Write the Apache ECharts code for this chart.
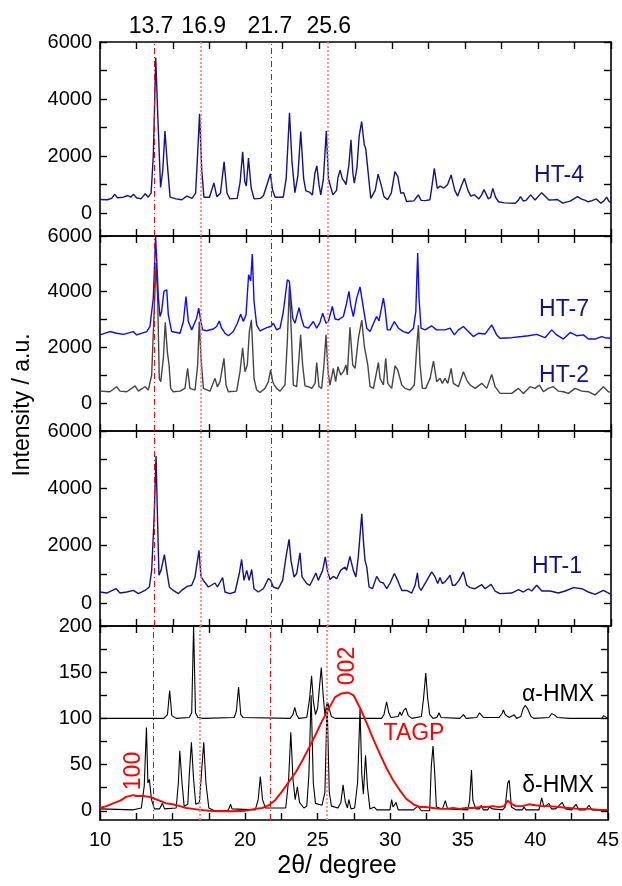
<!DOCTYPE html>
<html><head><meta charset="utf-8">
<script src="https://cdn.jsdelivr.net/npm/echarts@6/dist/echarts.min.js"></script>
<style>html,body{margin:0;padding:0;background:#fff}#c{width:622px;height:886px}</style>
</head><body><div id="c"></div>
<script>
// ---- tick labels / reference lines ----
const xTickLabels = [10, 15, 20, 25, 30, 35, 40, 45];
const xTickMarks = [10, 12.5, 15, 17.5, 20, 22.5, 25, 27.5, 30, 32.5, 35, 37.5, 40, 42.5, 45];
const yLabelsHT = [0, 2000, 4000, 6000];
const yMarksHT = [0, 1000, 2000, 3000, 4000, 5000, 6000];
const yLabelsHMX = [0, 50, 100, 150, 200];
const yMarksHMX = [0, 25, 50, 75, 100, 125, 150, 175, 200];
const refLines = [13.7, 16.9, 21.7, 25.6];

// ---- series (2theta, intensity) ----
const HT4 = [[10,480],[10.5,470],[10.8,520],[11.0,660],[11.2,540],[11.6,560],[11.9,620],[12.1,560],[12.3,660],[12.5,540],[12.8,500],[13.1,680],[13.3,560],[13.5,700],[13.65,2000],[13.82,5450],[13.95,3500],[14.15,900],[14.3,1500],[14.45,2880],[14.6,1800],[14.8,560],[15.2,500],[15.6,470],[15.95,600],[16.3,520],[16.55,700],[16.68,2000],[16.82,3480],[16.97,1500],[17.12,560],[17.5,560],[17.8,1060],[18.0,580],[18.25,700],[18.5,1800],[18.7,700],[18.9,500],[19.4,520],[19.6,1100],[19.77,2150],[19.92,1100],[20.02,950],[20.17,1930],[20.35,900],[20.55,500],[21.0,520],[21.2,620],[21.5,1100],[21.67,1380],[21.82,800],[22.0,560],[22.55,560],[22.75,1200],[22.98,3520],[23.15,1800],[23.35,720],[23.55,1300],[23.75,2860],[23.95,1200],[24.1,780],[24.35,740],[24.55,640],[24.72,1400],[24.85,1660],[25.0,1000],[25.12,640],[25.3,1200],[25.5,2880],[25.65,1200],[25.95,640],[26.2,800],[26.3,1250],[26.45,1510],[26.6,1200],[26.75,1100],[26.85,1000],[27.05,1700],[27.19,2570],[27.32,1400],[27.42,1050],[27.6,1600],[27.75,2700],[27.92,3210],[28.1,2400],[28.2,2270],[28.33,2230],[28.45,1000],[28.55,520],[28.85,800],[29.05,1370],[29.25,1000],[29.45,580],[29.7,470],[29.95,700],[30.2,1460],[30.4,1280],[30.6,700],[30.8,720],[31.0,410],[31.5,430],[31.8,640],[32.0,450],[32.3,440],[32.6,470],[32.75,1000],[32.9,1570],[33.1,870],[33.3,950],[33.55,880],[33.8,1000],[34.05,1340],[34.3,800],[34.5,600],[34.75,950],[34.96,1220],[35.2,800],[35.4,600],[35.65,650],[35.95,500],[36.15,650],[36.3,830],[36.6,500],[36.75,550],[36.9,870],[37.1,550],[37.3,400],[37.7,360],[38.45,350],[38.65,450],[38.8,580],[39.0,420],[39.2,460],[39.5,640],[39.8,460],[40.25,720],[40.75,460],[41.1,470],[41.33,480],[41.7,350],[42.2,420],[42.7,580],[42.95,500],[43.2,460],[43.45,400],[43.7,440],[44.0,500],[44.3,350],[44.5,420],[44.7,560],[44.85,420],[45,370]];

const HT7 = [[10,2450],[10.68,2570],[11.14,2510],[11.6,2470],[12.28,2570],[12.51,2450],[13.2,2570],[13.42,2750],[13.65,3770],[13.81,6000],[14.0,3770],[14.11,3110],[14.22,3290],[14.38,4010],[14.57,4070],[14.68,3170],[14.91,2570],[15.48,2510],[15.71,2930],[15.89,3830],[16.05,2930],[16.28,2630],[16.62,3050],[16.76,3410],[16.89,2990],[17.03,2630],[17.31,2600],[17.76,2660],[17.99,2750],[18.17,2950],[18.33,2690],[18.56,2510],[18.79,2420],[19.13,2570],[19.41,2870],[19.63,3190],[19.82,2930],[20.0,3170],[20.18,4610],[20.32,4390],[20.43,5350],[20.55,3650],[20.73,2810],[20.96,2590],[21.42,2710],[21.69,2750],[21.87,2870],[22.1,2630],[22.33,2690],[22.56,3290],[22.83,4430],[22.97,4370],[23.2,3050],[23.36,2870],[23.63,3430],[23.81,3020],[23.97,2750],[24.27,2690],[24.61,2930],[24.84,2690],[25.07,2900],[25.25,3230],[25.48,2870],[25.64,2930],[25.91,3470],[26.1,3020],[26.32,2990],[26.67,3110],[26.89,3590],[27.05,4010],[27.17,3530],[27.35,3110],[27.58,3770],[27.81,4170],[28.04,3410],[28.27,2690],[28.5,2570],[28.84,2990],[28.95,3110],[29.11,2950],[29.3,3470],[29.41,3770],[29.52,3410],[29.68,2630],[29.87,2630],[30.16,2930],[30.44,2690],[30.78,2570],[31.12,2510],[31.47,2690],[31.63,3290],[31.76,5390],[31.85,3770],[31.99,2690],[32.26,2630],[32.72,2770],[33.06,2630],[33.63,2630],[33.98,2690],[34.27,2450],[34.55,2630],[34.89,2750],[35.23,2570],[35.57,2390],[35.92,2510],[36.37,2480],[36.83,2810],[37.17,2450],[37.4,2330],[38.2,2350],[38.89,2390],[39.34,2420],[39.91,2470],[40.48,2350],[40.94,2630],[41.28,2450],[41.74,2300],[42.2,2540],[42.65,2420],[43.11,2450],[43.45,2300],[43.91,2300],[44.36,2390],[44.59,2350],[45,2330]];

const HT2 = [[10,430],[10.68,410],[11.14,590],[11.37,430],[11.83,410],[12.4,620],[12.63,430],[13.08,590],[13.31,470],[13.54,1010],[13.7,3170],[13.84,5030],[13.95,3770],[14.06,890],[14.16,770],[14.34,1610],[14.47,2900],[14.61,1850],[14.73,1370],[14.84,530],[15.02,410],[15.48,430],[15.82,530],[16.0,1250],[16.16,530],[16.51,470],[16.69,1370],[16.8,2930],[16.92,1610],[17.08,530],[17.53,430],[17.88,890],[18.04,590],[18.22,770],[18.49,1610],[18.63,650],[18.79,410],[19.36,430],[19.59,1130],[19.77,1990],[19.93,1130],[20.09,1370],[20.23,2570],[20.37,2990],[20.55,890],[20.73,470],[20.96,380],[21.3,530],[21.53,770],[21.69,1190],[21.83,770],[21.94,650],[22.1,530],[22.33,430],[22.67,650],[22.83,2210],[22.97,4190],[23.13,2210],[23.24,650],[23.47,590],[23.63,1610],[23.74,2450],[23.88,1370],[24.04,620],[24.27,590],[24.5,530],[24.73,710],[24.84,1460],[25.0,590],[25.18,530],[25.34,1370],[25.48,2450],[25.62,1130],[25.75,650],[25.98,1250],[26.14,770],[26.3,1310],[26.48,1010],[26.67,1130],[26.85,1370],[26.94,1010],[27.12,2720],[27.31,1370],[27.47,1250],[27.7,2330],[27.93,2980],[28.11,2030],[28.22,2090],[28.34,1370],[28.5,590],[28.73,530],[28.95,1130],[29.07,1460],[29.18,890],[29.41,650],[29.57,1610],[29.71,710],[29.98,530],[30.21,1340],[30.39,1190],[30.67,650],[30.9,530],[31.24,470],[31.53,650],[31.69,1970],[31.81,2800],[31.92,1370],[32.08,530],[32.31,530],[32.61,890],[32.84,1510],[33.06,770],[33.29,890],[33.45,710],[33.63,890],[33.82,710],[34.05,1250],[34.2,710],[34.55,590],[34.89,1130],[35.12,830],[35.35,650],[35.69,530],[36.15,710],[36.49,530],[36.83,1030],[37.06,590],[37.4,350],[38.2,350],[38.66,530],[39.0,350],[39.46,590],[39.8,530],[40.1,650],[40.37,410],[40.71,530],[41.05,590],[41.4,430],[41.74,410],[42.08,350],[42.54,530],[43.0,430],[43.45,410],[43.91,290],[44.48,590],[44.82,410],[45,400]];

const HT1 = [[10,385],[10.46,350],[11.1,500],[11.37,350],[11.83,385],[12.28,440],[12.63,330],[13.08,440],[13.38,560],[13.54,1140],[13.7,2890],[13.84,5130],[13.93,3130],[14.04,970],[14.18,1140],[14.41,1690],[14.57,1140],[14.75,560],[15.02,440],[15.37,330],[15.59,440],[15.98,580],[16.28,620],[16.51,910],[16.78,1840],[16.92,910],[17.08,790],[17.42,560],[17.88,700],[18.04,560],[18.4,890],[18.56,385],[18.9,330],[19.25,385],[19.54,1030],[19.7,1520],[19.86,790],[20.05,1140],[20.21,790],[20.39,1170],[20.55,500],[20.84,385],[21.19,500],[21.53,850],[21.69,790],[21.87,560],[22.21,500],[22.51,790],[22.74,1610],[22.95,2220],[23.08,1490],[23.29,910],[23.47,1030],[23.7,1750],[23.84,910],[24.16,680],[24.38,620],[24.79,1050],[24.95,790],[25.25,1140],[25.43,1610],[25.57,1140],[25.75,820],[25.98,930],[26.21,850],[26.48,1140],[26.78,1260],[26.89,1140],[27.12,1630],[27.35,1140],[27.53,910],[27.69,1610],[27.93,3110],[28.04,2190],[28.15,1490],[28.27,1260],[28.43,560],[28.66,500],[28.95,930],[29.18,740],[29.41,700],[29.64,500],[29.87,700],[30.16,1030],[30.39,790],[30.67,440],[31.01,440],[31.35,350],[31.58,620],[31.74,1050],[31.85,560],[31.99,440],[32.26,680],[32.72,1090],[32.95,910],[33.13,680],[33.29,890],[33.45,680],[33.63,740],[33.98,970],[34.14,620],[34.32,620],[34.59,790],[34.89,1090],[35.12,620],[35.35,540],[35.69,500],[36.15,640],[36.37,500],[36.79,650],[37.06,420],[37.4,330],[38.2,350],[38.66,470],[39.0,385],[39.34,500],[39.57,420],[39.91,620],[40.26,420],[40.83,420],[41.4,350],[41.86,420],[42.43,540],[43.0,500],[43.45,385],[43.91,300],[44.48,440],[45,300]];

const alphaHMX = [[10,100],[14.4,100],[14.65,104],[14.8,130],[14.95,103],[15.25,100],[16.15,101],[16.32,106],[16.45,200],[16.58,106],[16.75,101],[17.1,100],[19.25,101],[19.4,108],[19.55,134],[19.7,104],[19.85,101],[23.1,100],[23.3,104],[23.42,112],[23.55,104],[23.7,100],[24.25,101],[24.45,122],[24.58,146],[24.7,119],[24.85,104],[25.0,111],[25.12,133],[25.25,155],[25.37,127],[25.5,104],[25.6,113],[25.7,117],[25.8,110],[25.95,102],[26.2,100],[29.4,100],[29.57,104],[29.75,118],[29.9,106],[30.05,101],[30.55,102],[30.67,107],[30.78,103],[30.94,109],[31.08,111],[31.24,103],[31.5,100],[32.15,102],[32.3,122],[32.45,149],[32.58,122],[32.72,104],[32.95,100],[33.22,101],[33.36,106],[33.5,101],[34.8,100],[35.05,104],[35.23,100],[35.97,101],[36.15,106],[36.26,107],[36.42,101],[37.5,101],[37.7,105],[37.8,109],[37.93,104],[38.2,101],[38.55,104],[38.7,100],[39.0,102],[39.15,110],[39.3,114],[39.45,111],[39.7,102],[39.9,100],[40.94,101],[41.12,105],[41.3,104],[41.5,101],[42.4,100],[42.5,102],[42.65,100],[44.6,100],[44.7,103],[44.82,101],[45,100]];

const deltaHMX = [[10,2],[12.3,1],[12.85,3],[13.05,27],[13.2,90],[13.3,30],[13.4,34],[13.55,12],[13.75,2],[14.1,2],[14.3,8],[14.45,2],[15.25,3],[15.4,30],[15.5,65],[15.65,30],[15.8,5],[16.05,7],[16.15,38],[16.3,74],[16.45,34],[16.6,7],[16.85,9],[17.0,42],[17.15,74],[17.3,30],[17.5,3],[17.9,0],[18.8,0],[18.9,3],[19.0,7],[19.1,2],[20.7,1],[20.9,12],[21.05,37],[21.2,12],[21.4,3],[22.8,3],[23.0,34],[23.15,85],[23.3,34],[23.45,12],[23.6,26],[23.75,9],[24.05,3],[24.25,5],[24.4,40],[24.55,125],[24.7,30],[24.85,8],[25.3,6],[25.5,20],[25.65,118],[25.8,20],[25.95,5],[26.4,3],[26.6,9],[26.75,28],[26.9,10],[27.05,3],[27.15,12],[27.3,2],[27.55,3],[27.75,30],[27.92,110],[28.04,40],[28.15,18],[28.3,60],[28.43,26],[28.6,2],[28.9,4],[29.07,1],[29.98,1],[30.1,12],[30.2,4],[30.4,9],[30.55,1],[31.35,1],[31.47,3],[31.6,1],[31.9,5],[32.15,0],[32.72,0],[32.83,48],[32.95,70],[33.07,40],[33.18,4],[33.6,2],[33.8,11],[33.95,2],[35.35,1],[35.47,11],[35.6,44],[35.7,11],[35.9,2],[36.15,2],[36.27,6],[36.42,1],[36.72,1],[36.83,4],[37.06,2],[37.74,1],[37.92,4],[38.1,30],[38.2,33],[38.35,4],[38.65,1],[39.1,1],[39.23,4],[39.35,1],[40.25,1],[40.44,14],[40.6,4],[40.7,4],[40.94,8],[41.12,2],[41.4,2],[41.85,9],[42.08,2],[42.5,1],[42.8,7],[43.0,1],[43.45,1],[43.7,6],[43.9,1],[45,0]];

const TAGP = [[10,3],[10.45,5],[10.9,8],[11.4,11],[11.8,15],[12.3,17],[12.5,16],[12.95,16],[13.4,15],[13.75,13],[14.1,11],[14.55,8],[15.0,7],[15.5,5],[15.95,3],[16.4,2],[16.85,1],[17.5,0],[18.2,-0.5],[19.1,-0.5],[20.0,0],[20.7,2],[21.2,3],[21.65,6],[22.1,12],[22.55,21],[23.0,31],[23.5,42],[23.9,53],[24.4,68],[24.85,82],[25.3,97],[25.75,110],[26.2,123],[26.65,127],[27.1,128],[27.47,125],[27.93,111],[28.4,94],[28.85,77],[29.3,61],[29.75,46],[30.2,33],[30.67,22],[31.1,13],[31.6,7],[32.05,4],[32.5,4],[32.95,3],[33.4,2],[33.86,2],[34.32,3],[34.8,2],[35.2,3],[35.7,3],[36.15,4],[36.6,4],[37.06,5],[37.5,4],[37.85,5],[38.1,11],[38.3,8],[38.65,5],[39.1,5],[39.57,7],[40.0,6],[40.5,5],[40.94,5],[41.6,4],[42.3,3],[43.0,2],[43.7,2],[44.4,1],[45,1]];

// ---- chart ----
const FONT = "'Liberation Sans', Arial, sans-serif";
const panels = [
  {top: 42, height: 194, min: -800, max: 6000, labels: yLabelsHT, marks: yMarksHT},
  {top: 236, height: 195, min: -1000, max: 6000, labels: yLabelsHT, marks: yMarksHT},
  {top: 431, height: 195, min: -800, max: 6000, labels: yLabelsHT, marks: yMarksHT},
  {top: 626, height: 194, min: -10, max: 200, labels: yLabelsHMX, marks: yMarksHMX}
];
const axLine = {show: true, onZero: false, lineStyle: {color: '#000', width: 1.6}};
const tickStyle = {color: '#000', width: 1.4};
const xAxes = [], yAxes = [];
panels.forEach((p, i) => {
  ['bottom', 'top'].forEach(pos => {
    xAxes.push({gridIndex: i, type: 'value', min: 10, max: 45, interval: 5, position: pos,
      axisLine: axLine,
      axisTick: {show: true, inside: true, length: 7, customValues: xTickMarks, lineStyle: tickStyle},
      axisLabel: {show: pos === 'bottom' && i === 3, customValues: xTickLabels, formatter: v => String(v),
        fontSize: 20, color: '#000', fontFamily: FONT, margin: 10},
      splitLine: {show: false}});
  });
  ['left', 'right'].forEach(pos => {
    yAxes.push({gridIndex: i, type: 'value', min: p.min, max: p.max, position: pos,
      axisLine: axLine,
      axisTick: {show: true, inside: true, length: 7, customValues: p.marks, lineStyle: tickStyle},
      axisLabel: {show: pos === 'left', customValues: p.labels, formatter: v => String(v),
        fontSize: 20, color: '#000', fontFamily: FONT, margin: 8},
      splitLine: {show: false}});
  });
});

const labelShift = [-3, 3, -1, 1];
function refMark(i) {
  return {silent: true, symbol: ['none', 'none'], animation: false,
    label: {show: i === 0, position: 'end', formatter: q => String(q.value), fontSize: 23, color: '#000', fontFamily: FONT, distance: 4},
    data: refLines.map((v, k) => ({xAxis: v,
      label: {offset: [labelShift[k], 0]},
      lineStyle: k % 2 === 0 ? {color: '#ff0000', width: 1, type: [6, 3, 1, 3]} : {color: '#ff7a7a', width: 1.6, type: [2, 2]}}))};
}
function ser(name, data, i, color, width, withMark) {
  const s = {type: 'line', name, data, xAxisIndex: 2 * i, yAxisIndex: 2 * i, symbol: 'none', showSymbol: false,
    lineStyle: {color, width}, itemStyle: {color}, animation: false, silent: true};
  if (withMark) s.markLine = refMark(i);
  return s;
}
const NAVY = '#12128a';
const series = [
  ser('HT-4', HT4, 0, NAVY, 1.4, true),
  ser('HT-2', HT2, 1, '#454545', 1.4, true),
  ser('HT-7', HT7, 1, '#0a0aff', 1.4, false),
  ser('HT-1', HT1, 2, NAVY, 1.4, true),
  ser('alpha-HMX', alphaHMX, 3, '#000', 1.1, true),
  ser('delta-HMX', deltaHMX, 3, '#000', 1.1, false),
  ser('TAGP', TAGP, 3, '#ff0000', 1.9, false)
];

function txt(t, x, y, color, size, rot) {
  return {type: 'text', x, y, rotation: rot || 0, z: 100,
    style: {text: t, x: 0, y: 0, fill: color, font: size + 'px ' + FONT, textAlign: 'center', textVerticalAlign: 'middle'}};
}
const graphics = [
  txt('HT-4', 559, 176, NAVY, 23),
  txt('HT-7', 564, 310, NAVY, 23),
  txt('HT-2', 564, 376, NAVY, 23),
  txt('HT-1', 557, 567, NAVY, 23),
  txt('α-HMX', 558, 695, '#000', 23),
  txt('δ-HMX', 558, 786, '#000', 23),
  txt('TAGP', 414, 734, '#ff0000', 23),
  txt('002', 348, 666, '#ff0000', 23, Math.PI / 2),
  txt('100', 134, 771, '#ff0000', 23, Math.PI / 2),
  txt('Intensity / a.u.', 23, 405, '#000', 23, Math.PI / 2),
  txt('2θ/ degree', 337, 866, '#000', 25)
];

const chart = echarts.init(document.getElementById('c'), null, {renderer: 'canvas'});
chart.setOption({
  animation: false,
  backgroundColor: '#fff',
  grid: panels.map(p => ({left: 100, right: 11, top: p.top, height: p.height})),
  xAxis: xAxes,
  yAxis: yAxes,
  series,
  graphic: graphics
});
</script></body></html>
